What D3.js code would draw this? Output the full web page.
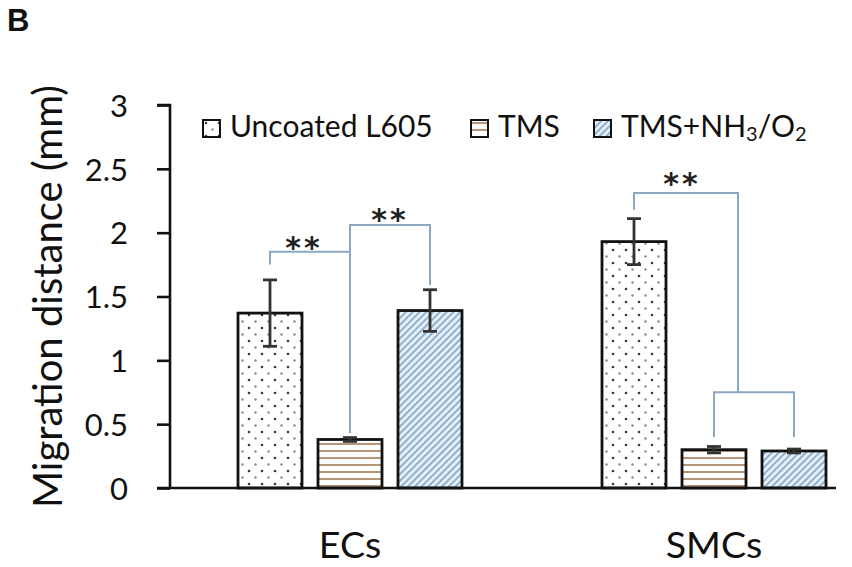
<!DOCTYPE html>
<html><head><meta charset="utf-8">
<script src="https://cdn.jsdelivr.net/npm/d3@7"></script>
<style>body{margin:0;background:#fff}svg{display:block}</style>
</head><body>
<svg id="c" width="852" height="567"></svg>
<script>
// ---- data ----
const categories = ["ECs", "SMCs"];
const series = ["Uncoated L605", "TMS", "TMS+NH3/O2"];
const valuesECs = [1.37, 0.38, 1.39];
const errorsECs = [0.26, 0.015, 0.163];
const valuesSMCs = [1.93, 0.30, 0.29];
const errorsSMCs = [0.18, 0.025, 0.015];
const yTicks = [0, 0.5, 1, 1.5, 2, 2.5, 3];
// significance brackets (data units)
const sigECs1 = {from: 0, to: 1, legFrom: 1.75, top: 1.85, legTo: 0.43};
const sigECs2 = {from: 1, to: 2, top: 2.06, legFrom: 0.43, legTo: 1.59};
const sigSMCs = {left: 0, leftLeg: 2.18, top: 2.31, joint: 0.75, legs: 0.40};

const values = [valuesECs, valuesSMCs];
const errors = [errorsECs, errorsSMCs];

const svg = d3.select("#c");
const FONT = "Lato, 'Open Sans', sans-serif";

// ---- scales ----
const y = d3.scaleLinear().domain([0, 3]).range([488, 105]);
const x0 = d3.scaleBand().domain(categories).range([168, 896]);
const x1 = d3.scaleBand().domain(series).range([-120, 120]).paddingInner(0.2).paddingOuter(0.1);
const plotLeft = 170, plotRight = 836;

// ---- patterns ----
const defs = svg.append("defs");
const pDots = defs.append("pattern").attr("id", "pDots").attr("patternUnits", "userSpaceOnUse")
  .attr("width", 13).attr("height", 13);
pDots.append("rect").attr("width", 13).attr("height", 13).attr("fill", "#fff");
pDots.append("circle").attr("cx", 3).attr("cy", 3).attr("r", 1.3).attr("fill", "#3a3a3a");
pDots.append("circle").attr("cx", 9.5).attr("cy", 9.5).attr("r", 1.2).attr("fill", "#8a8a8a");
const pStripes = defs.append("pattern").attr("id", "pStripes").attr("patternUnits", "userSpaceOnUse")
  .attr("width", 10).attr("height", 7);
pStripes.append("rect").attr("width", 10).attr("height", 7).attr("fill", "#fff");
pStripes.append("rect").attr("y", 2).attr("width", 10).attr("height", 2).attr("fill", "#b8967a");
const pHatch = defs.append("pattern").attr("id", "pHatch").attr("patternUnits", "userSpaceOnUse")
  .attr("width", 4.8).attr("height", 10).attr("patternTransform", "rotate(45)");
pHatch.append("rect").attr("width", 4.8).attr("height", 10).attr("fill", "#e8f0f8");
pHatch.append("rect").attr("width", 2).attr("height", 10).attr("fill", "#8fb0cf");
const fills = ["url(#pDots)", "url(#pStripes)", "url(#pHatch)"];

// ---- bars ----
const groups = svg.append("g").selectAll("g").data(categories).join("g")
  .attr("transform", d => `translate(${x0(d) + x0.bandwidth() / 2},0)`);
groups.each(function (cat, ci) {
  const g = d3.select(this);
  series.forEach((s, si) => {
    const v = values[ci][si];
    g.append("rect")
      .attr("x", x1(s)).attr("width", x1.bandwidth())
      .attr("y", y(v)).attr("height", y(0) - y(v))
      .attr("fill", fills[si]).attr("stroke", "#111").attr("stroke-width", 2.8);
    const cx = x1(s) + x1.bandwidth() / 2, e = errors[ci][si];
    const eb = g.append("g").attr("stroke", "#333").attr("stroke-width", 2.8);
    eb.append("line").attr("x1", cx).attr("x2", cx).attr("y1", y(v + e)).attr("y2", y(v - e));
    eb.append("line").attr("x1", cx - 7).attr("x2", cx + 7).attr("y1", y(v + e)).attr("y2", y(v + e));
    eb.append("line").attr("x1", cx - 7).attr("x2", cx + 7).attr("y1", y(v - e)).attr("y2", y(v - e));
  });
});

// ---- axes ----
const yAxis = svg.append("g").attr("transform", `translate(${plotLeft},0)`)
  .call(d3.axisLeft(y).tickValues(yTicks).tickSize(13).tickPadding(29).tickFormat(d3.format("")));
yAxis.select(".domain").attr("stroke", "#111").attr("stroke-width", 2.6).attr("d", `M-13,${y(3)}H0V${y(0)}`);
yAxis.selectAll(".tick line").attr("stroke", "#111").attr("stroke-width", 2.6);
yAxis.selectAll(".tick text").attr("font-family", FONT).attr("font-size", 31).attr("fill", "#111").attr("dy", "0.36em");

svg.append("line").attr("x1", plotLeft - 13).attr("x2", plotRight).attr("y1", y(0)).attr("y2", y(0))
  .attr("stroke", "#111").attr("stroke-width", 2.6);

const xAxis = svg.append("g").attr("transform", `translate(0,${y(0)})`)
  .call(d3.axisBottom(x0).tickSize(0).tickPadding(0));
xAxis.select(".domain").remove();
xAxis.selectAll(".tick text").attr("font-family", FONT).attr("font-size", 37.5).attr("fill", "#111")
  .attr("dy", 0).attr("y", 70);

svg.append("text").attr("transform", `translate(62,${(y(0) + y(3)) / 2}) rotate(-90)`)
  .attr("text-anchor", "middle").attr("font-family", FONT).attr("font-size", 40).attr("fill", "#111")
  .text("Migration distance (mm)");

svg.append("text").attr("x", 7).attr("y", 31).attr("font-family", "'Liberation Sans', Arial, sans-serif")
  .attr("font-weight", "bold").attr("font-size", 31).attr("fill", "#111").text("B");

// ---- significance brackets ----
const bx = (ci, si) => x0(categories[ci]) + x0.bandwidth() / 2 + x1(series[si]) + x1.bandwidth() / 2;
const sig = svg.append("g").attr("fill", "none").attr("stroke", "#8aa8c4").attr("stroke-width", 2);
const star = (xx, yy) => svg.append("text").attr("x", xx).attr("y", yy).attr("text-anchor", "middle")
  .attr("font-family", "'DejaVu Sans', sans-serif").attr("font-weight", "bold").attr("font-size", 30)
  .attr("letter-spacing", 3).attr("fill", "#222").text("**");
// ECs 1
sig.append("path").attr("d", `M${bx(0, 0)},${y(sigECs1.legFrom)}V${y(sigECs1.top)}H${bx(0, 1)}`);
// ECs 2 + shared TMS leg
sig.append("path").attr("d", `M${bx(0, 1)},${y(sigECs2.legFrom)}V${y(sigECs2.top)}H${bx(0, 2)}V${y(sigECs2.legTo)}`);
star((bx(0, 0) + bx(0, 1)) / 2 - 6, y(1.94) + 18);
star((bx(0, 1) + bx(0, 2)) / 2, y(2.16) + 18);
// SMCs
const jx = bx(1, 1) + 0.3 * (bx(1, 2) - bx(1, 1));
sig.append("path").attr("d", `M${bx(1, 0)},${y(sigSMCs.leftLeg)}V${y(sigSMCs.top)}H${jx}V${y(sigSMCs.joint)}`);
sig.append("path").attr("d", `M${bx(1, 1)},${y(sigSMCs.legs)}V${y(sigSMCs.joint)}H${bx(1, 2)}V${y(sigSMCs.legs)}`);
star((bx(1, 0) + jx) / 2 - 4, y(2.44) + 18);

// ---- legend ----
const legX = [203, 471, 594];
const leg = svg.append("g");
series.forEach((s, i) => {
  const g = leg.append("g").attr("transform", `translate(${legX[i]},120)`);
  g.append("rect").attr("width", 17).attr("height", 17).attr("fill", fills[i]).attr("stroke", "#111").attr("stroke-width", 2);
  const t = g.append("text").attr("x", 27).attr("y", 17).attr("font-family", FONT).attr("font-size", 30).attr("fill", "#111");
  if (s === "TMS+NH3/O2") {
    t.append("tspan").text("TMS+NH");
    t.append("tspan").attr("font-size", 20).attr("dy", 4).text("3");
    t.append("tspan").attr("dy", -4).text("/O");
    t.append("tspan").attr("font-size", 20).attr("dy", 4).text("2");
  } else t.text(s);
});
</script>
</body></html>
